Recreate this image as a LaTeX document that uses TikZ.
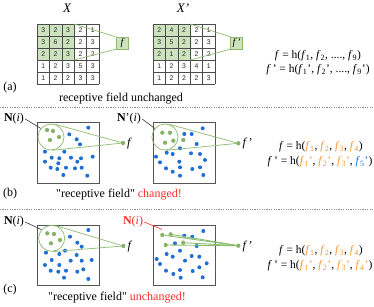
\documentclass[tikz,border=0pt]{standalone}
\usepackage{fontspec}
\setmainfont{Liberation Serif}
\newfontfamily\gridfont{Liberation Sans}
\newfontfamily\qfont{Liberation Serif}
\usetikzlibrary{calc}
\definecolor{gfill}{HTML}{CDE3BD}
\definecolor{gline}{HTML}{8DBB6F}
\definecolor{gdot}{HTML}{86B464}
\definecolor{bdotc}{HTML}{1F6FD6}
\definecolor{orng}{HTML}{F39A2B}
\definecolor{redc}{HTML}{FF2A2A}
\definecolor{boxc}{HTML}{555555}
\tikzset{
 num/.style={font=\gridfont\fontsize{6.8}{7}\selectfont, inner sep=0pt, text=black!85},
 gridc/.style={draw=black!70, line width=0.6pt},
 fbox/.style={draw=gline, fill=gfill, minimum width=12pt, minimum height=12pt, inner sep=0pt, font=\itshape\fontsize{10}{10}\selectfont},
 gl/.style={draw=gline, line width=0.7pt},
 bdot/.style={circle, fill=bdotc, inner sep=0pt, minimum size=4pt},
 gdotst/.style={circle, fill=gdot, inner sep=0pt, minimum size=4.3pt},
 rf/.style={draw=gline, circle, line width=0.7pt, minimum size=26pt, inner sep=0pt},
 panelbox/.style={draw=boxc, line width=0.9pt},
 lbl/.style={font=\fontsize{12}{14}\selectfont, inner sep=1pt},
 flbl/.style={font=\itshape\fontsize{12}{14}\selectfont, inner sep=1pt, anchor=west},
 eq/.style={font=\fontsize{11.5}{13}\selectfont, inner sep=0pt},
 sep/.style={draw=black!45, dash pattern=on 1.2pt off 1.2pt, line width=0.5pt},
}
\newcommand\fsub[1]{\textit{f}\textsubscript{#1}}
\newcommand\sq{{\qfont"}}
\newcommand\mygrid[3]{%
 \fill[gfill] (#1,24) rectangle ({#1+37.2},60);
 \foreach \row [count=\r] in {#3} {\foreach \v [count=\c] in \row {\node[num] (#2-\r-\c) at ({#1+(\c-0.5)*12.4},{24+(\r-0.5)*12}) {\v};}}
 \foreach \i in {0,...,5} \draw[gridc] ({#1+\i*12.4},24) -- ({#1+\i*12.4},84);
 \foreach \j in {0,...,5} \draw[gridc] (#1,{24+\j*12}) -- ({#1+62},{24+\j*12});
}
\begin{document}
\begin{tikzpicture}[x=1pt,y=-1pt]
\useasboundingbox (0,0) rectangle (374,307);
% ---------- (a)
\node[font=\itshape\fontsize{13}{14}\selectfont] (xl) at (67,8) {X};
\node[font=\itshape\fontsize{13}{14}\selectfont] (xpl) at (183,8) {X'};
\mygrid{37}{ga}{{3,2,3,2,1},{3,6,2,2,3},{2,2,3,2,2},{1,2,3,5,3},{1,2,2,3,3}}
\mygrid{153}{gb}{{2,4,2,2,1},{3,5,2,2,3},{2,1,2,2,2},{1,2,3,4,1},{1,2,2,2,3}}
\coordinate (ga-tr) at (74.2,24);
\coordinate (ga-br) at (74.2,60);
\coordinate (gb-tr) at (190.2,24);
\coordinate (gb-br) at (190.2,60);
\node[fbox] (fa) at (122,43) {f};
\node[fbox] (fpa) at (236.5,43) {f\,'};
\draw[gl] (ga-tr) -- (fa.north west);
\draw[gl] (ga-br) -- (fa.south west);
\draw[gl] (gb-tr) -- (fpa.north west);
\draw[gl] (gb-br) -- (fpa.south west);
\node[eq] (eqa1) at (318,56) {\textit{f} = h(\fsub{1}, \fsub{2}, ...., \fsub{9})};
\node[eq] (eqa2) at (318,70) {\textit{f}\,' = h(\fsub{1}', \fsub{2}', ...., \fsub{9}')};
\node[lbl] (pa) at (10,88) {(a)};
\node[lbl] (ta) at (121,99) {receptive field unchanged};
\draw[sep] (0,107) -- (374,107);
% ---------- (b)
\draw[panelbox] (37,122) rectangle (99,183);
\draw[panelbox] (153,122) rectangle (215,183);
\foreach \p [count=\i] in {(88.3,127.7),(69.3,134.3),(76.7,139.3),(80,144.3),(45,151.7),(64.3,151.7),(51.7,157.7),(59.3,158.3),(71,157.7),(81,158.3),(92.7,156.7),(45,161.7),(58.3,163.3),(77.3,161.7),(50.7,167.7),(57.3,169),(66,167.7),(75,168.3),(81.7,167.7),(63.3,175),(87.3,175.7)}
  \node[bdot] (bl\i) at \p {};
\foreach \p [count=\i] in {(47,130),(53,131),(50,140),(59,137)}
  \node[gdotst] (gbl\i) at \p {};
\foreach \p [count=\i] in {(202.7,128.3),(184.3,134),(191.7,134),(196.7,144),(180,148.3),(156,156.7),(166.7,152.7),(172.7,154),(191,153.3),(200,154),(160,162.3),(179.3,161.7),(205,160),(166,168.3),(180,167.3),(192.3,169),(200,167.3),(172.7,171.7),(180,175.7),(203.3,175)}
  \node[bdot] (br\i) at \p {};
\foreach \p [count=\i] in {(162.3,132.7),(170,132.7),(165,142.7),(173.3,140.7),(183.3,140)}
  \node[gdotst] (gbr\i) at \p {};
\node[rf] (cbl) at (51,137) {};
\node[rf] (cbr) at (165,137) {};
\node[gdotst] (fbl) at (123,143) {};
\node[gdotst] (fbr) at (238.3,143.3) {};
\node[flbl] (fbll) at (126,144) {f};
\node[flbl] (fbrl) at (241.3,144) {f\,'};
\draw[gl] (tangent cs:node=cbl,point={(fbl)},solution=1) -- (fbl);
\draw[gl] (tangent cs:node=cbl,point={(fbl)},solution=2) -- (fbl);
\draw[gl] (tangent cs:node=cbr,point={(fbr)},solution=1) -- (fbr);
\draw[gl] (tangent cs:node=cbr,point={(fbr)},solution=2) -- (fbr);
\node[lbl] (nbl) at (14,119) {\textbf{N}(\textit{i})};
\node[lbl] (nbr) at (129,119) {\textbf{N}'(\textit{i})};
\draw[black!80, line width=0.6pt] (nbl.east) -- (cbl.140);
\draw[black!80, line width=0.6pt] (nbr.east) -- (cbr.140);
\node[eq] (eqb1) at (321,147) {\textit{f} = h(\textcolor{orng}{\fsub{1}}, \textcolor{orng}{\fsub{2}}, \textcolor{orng}{\fsub{3}}, \textcolor{orng}{\fsub{4}})};
\node[eq] (eqb2) at (320,162) {\textit{f}\,' = h(\textcolor{orng}{\fsub{1}'}, \textcolor{orng}{\fsub{2}'}, \textcolor{orng}{\fsub{3}'}, \textcolor{bdotc}{\fsub{5}'})};
\node[lbl] (pb) at (10,194) {(b)};
\node[lbl] (tb) at (119,195) {\sq receptive field\sq{} \textcolor{redc}{changed!}};
\draw[sep] (0,209) -- (374,209);
% ---------- (c)
\draw[panelbox] (37,225) rectangle (99,285);
\draw[panelbox] (153,225) rectangle (215,285);
\foreach \p [count=\i] in {(88.3,230),(70,236.7),(77.3,242.7),(81.7,246.7),(46,252.7),(59.3,254),(65,250.7),(76.7,255),(51.7,260),(70.7,260.7),(81.7,260.7),(91.7,260),(45,265),(59.3,265),(50.7,270.7),(58.3,271.7),(66,270.7),(77.3,271.7),(83.3,269.3),(64,277.7),(88.3,279)}
  \node[bdot] (cl\i) at \p {};
\foreach \p [count=\i] in {(47.3,233.3),(54,234),(51,243.3),(60,240)}
  \node[gdotst] (gcl\i) at \p {};
\foreach \p [count=\i] in {(184.3,235.7),(192.3,236.7),(203.3,231),(175,243.3),(196.7,246),(180,250.7),(166.7,254),(172.7,256.7),(191.7,256),(199.3,256.7),(156.7,259),(185,260.7),(160,264),(206.7,263.3),(199.3,267.3),(166,270.7),(180,270),(192.7,271),(173.3,274),(180.7,277.7),(202.7,277.3)}
  \node[bdot] (cr\i) at \p {};
\node[rf] (ccl) at (51.7,238.3) {};
\node[gdotst] (fcl) at (123.3,246) {};
\node[gdotst] (fcr) at (238.3,245.7) {};
\node[flbl] (fcll) at (126.3,247) {f};
\node[flbl] (fcrl) at (241.3,246.5) {f\,'};
\draw[gl] (tangent cs:node=ccl,point={(fcl)},solution=1) -- (fcl);
\draw[gl] (tangent cs:node=ccl,point={(fcl)},solution=2) -- (fcl);
\foreach \p [count=\i] in {(162.3,235),(170.7,234.3),(165.7,245),(183.3,242.7)}
  \node[gdotst] (gcr\i) at \p {};
\foreach \i in {1,...,4} \draw[gl, line width=0.9pt] (gcr\i) -- (fcr);
\node[lbl] (ncl) at (14,222) {\textbf{N}(\textit{i})};
\node[lbl, text=redc] (ncr) at (133,222) {\textbf{N}(\textit{i})};
\coordinate (ncrend) at (162,229.5);
\draw[black!80, line width=0.6pt] (ncl.east) -- (ccl.140);
\draw[redc, line width=0.6pt] (ncr.east) -- (ncrend);
\node[eq] (eqc1) at (321,251) {\textit{f} = h(\textcolor{orng}{\fsub{1}}, \textcolor{orng}{\fsub{2}}, \textcolor{orng}{\fsub{3}}, \textcolor{orng}{\fsub{4}})};
\node[eq] (eqc2) at (320,266) {\textit{f}\,' = h(\textcolor{orng}{\fsub{1}'}, \textcolor{orng}{\fsub{2}'}, \textcolor{orng}{\fsub{3}'}, \textcolor{orng}{\fsub{4}'})};
\node[lbl] (pc) at (10,290) {(c)};
\node[lbl] (tc) at (117,297.5) {\sq receptive field\sq{} \textcolor{redc}{unchanged!}};
\end{tikzpicture}
\end{document}
